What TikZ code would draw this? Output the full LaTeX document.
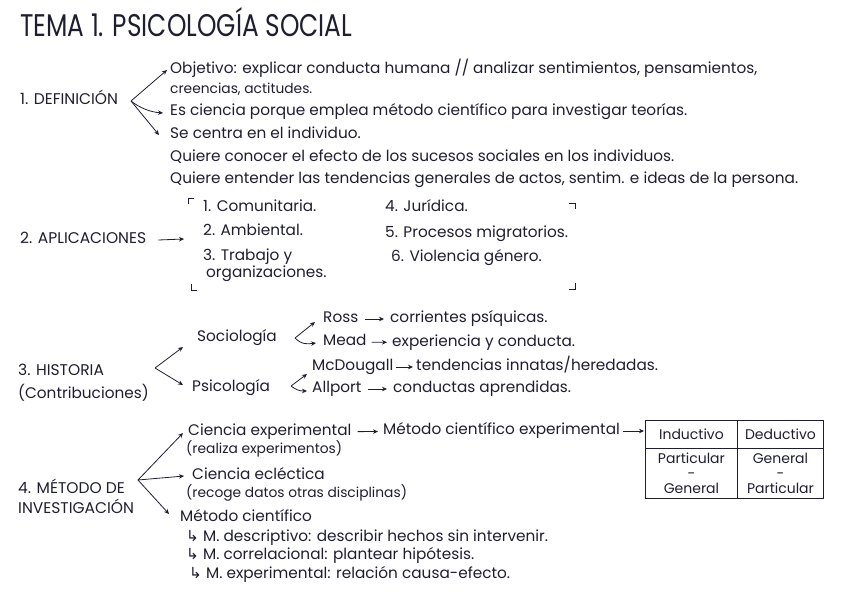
\documentclass[tikz,border=0pt]{standalone}
\usepackage{fontspec}
\setmainfont{Poppins}
\newfontfamily\hookfont{DejaVu Sans}
\usetikzlibrary{arrows.meta}
\definecolor{ink}{RGB}{30,30,48}
\tikzset{
  txt/.style={anchor=west, inner sep=0pt, text=ink, font=\fontsize{15.3}{17}\selectfont,
    text height=10pt, text depth=3pt},
  small/.style={txt, font=\fontsize{13.8}{15}\selectfont},
  head/.style={txt, font=\fontsize{15.5}{17}\selectfont},
  arr/.style={draw=ink, line width=0.8pt, -{Stealth[length=5pt,width=4.5pt]}},
  corner/.style={draw=ink, line width=0.8pt},
  cell/.style={draw=ink, line width=0.9pt, inner sep=0pt, anchor=north west, text=ink,
    font=\fontsize{14}{15}\selectfont, align=center}
}
\newcommand{\hk}{{\hookfont ↳}}

\begin{document}
\begin{tikzpicture}[x=1pt,y=-1pt]
\useasboundingbox (0,0) rectangle (848,613);

\node[anchor=base west, inner sep=0pt, text=ink] (title) at (20,37)
  {\resizebox{332pt}{29pt}{TEMA 1. PSICOLOGÍA SOCIAL}};

% 1. definicion
\node[head] (defi) at (20,101) {1. DEFINICIÓN};
\coordinate (v1) at (131,101);
\node[txt] (obj) at (170,70) {Objetivo: explicar conducta humana // analizar sentimientos, pensamientos,};
\node[small] (cre) at (170,90) {creencias, actitudes.};
\node[txt] (cien) at (170,112) {Es ciencia porque emplea método científico para investigar teorías.};
\node[txt] (cen) at (170,135) {Se centra en el individuo.};
\node[txt] (q1) at (170,158) {Quiere conocer el efecto de los sucesos sociales en los individuos.};
\node[txt] (q2) at (170,180) {Quiere entender las tendencias generales de actos, sentim. e ideas de la persona.};
\draw[arr] (v1) -- ([shift={(-3,0)}]obj.west);
\draw[arr] (v1) .. controls (140,108) and (150,112) .. ([shift={(-7,1)}]cien.west);
\draw[arr] (v1) -- ([shift={(-11,0)}]cen.west);

% 2. aplicaciones
\node[head] (apl) at (20,240) {2. APLICACIONES};
\coordinate (a2) at (184,239);
\node[txt] (c1) at (203,208) {1. Comunitaria.};
\node[txt] (c2) at (203,232) {2. Ambiental.};
\node[txt] (c3) at (203,257) {3. Trabajo y};
\node[txt] (c3b) at (206,274) {organizaciones.};
\node[txt] (c4) at (385,208) {4. Jurídica.};
\node[txt] (c5) at (385,234) {5. Procesos migratorios.};
\node[txt] (c6) at (391,258) {6. Violencia género.};
\draw[arr] ([xshift=12pt]apl.east) -- (a2);
\draw[corner] (188,204) |- (194,198);
\draw[corner] (191,284) |- (197,290);
\draw[corner] (569,203) -| (575,209);
\draw[corner] (575,283) |- (569,289);

% 3. historia
\node[head] (hist) at (18,372) {3. HISTORIA};
\node[txt] (contr) at (18,395) {(Contribuciones)};
\coordinate (v3) at (155,368);
\node[txt] (soc) at (197,338) {Sociología};
\node[txt] (psi) at (192,388) {Psicología};
\draw[arr] (v3) -- ([shift={(-14,9)}]soc.west);
\draw[arr] (v3) -- ([shift={(-9,-3)}]psi.west);
\coordinate (v3a) at (295,338);
\node[txt] (ross) at (323,319) {Ross};
\node[txt] (corr) at (390,319) {corrientes psíquicas.};
\node[txt] (mead) at (323,342) {Mead};
\node[txt] (expe) at (392,343) {experiencia y conducta.};
\draw[arr] (v3a) -- ([shift={(-8,3)}]ross.west);
\draw[arr] (v3a) .. controls (302,345) and (308,344) .. ([shift={(-7,1)}]mead.west);
\draw[arr, shorten <=7pt, shorten >=6pt] (ross) -- (corr);
\draw[arr, shorten <=5pt, shorten >=5pt] (mead) -- (expe);
\coordinate (v3b) at (291,386);
\node[txt] (mcd) at (312,367) {McDougall};
\node[txt] (tend) at (416,367) {tendencias innatas/heredadas.};
\node[txt] (allp) at (312,389) {Allport};
\node[txt] (cond) at (393,389) {conductas aprendidas.};
\draw[arr] (v3b) -- ([shift={(-5,7)}]mcd.west);
\draw[arr] (v3b) .. controls (296,390) and (300,391) .. ([shift={(-5,2)}]allp.west);
\draw[arr, shorten <=3pt, shorten >=3pt] (mcd) -- (tend);
\draw[arr, shorten <=6pt, shorten >=6pt] (allp) -- (cond);

% 4. metodo
\node[head] (met) at (18,490) {4. MÉTODO DE};
\node[head] (inv) at (18,510) {INVESTIGACIÓN};
\coordinate (v4) at (138,480);
\node[txt] (cexp) at (188,432) {Ciencia experimental};
\node[small] (real) at (186,450) {(realiza experimentos)};
\node[txt] (mce) at (383,431) {Método científico experimental};
\node[txt] (cecl) at (192,476) {Ciencia ecléctica};
\node[small] (rec) at (186,494) {(recoge datos otras disciplinas)};
\node[txt] (mc) at (180,518) {Método científico};
\node[txt] (md) at (186,538) {\hk\ M. descriptivo: describir hechos sin intervenir.};
\node[txt] (mco) at (186,556) {\hk\ M. correlacional: plantear hipótesis.};
\node[txt] (mex) at (189,575) {\hk\ M. experimental: relación causa-efecto.};
\draw[arr] (v4) -- ([shift={(-5,1)}]cexp.west);
\draw[arr] (v4) -- ([shift={(-8,0)}]cecl.west);
\draw[arr] (v4) -- ([shift={(-11,-4)}]mc.west);
\draw[arr, shorten <=6pt, shorten >=5pt] (cexp) -- (mce);

% tabla
\node[cell, minimum width=92pt, minimum height=28pt] (ind) at (645,420) {Inductivo};
\node[cell, minimum width=86pt, minimum height=28pt] (ded) at (737,420) {Deductivo};
\node[cell, minimum width=92pt, minimum height=50pt] (pg) at (645,448) {Particular\\-\\General};
\node[cell, minimum width=86pt, minimum height=50pt] (gp) at (737,448) {General\\-\\Particular};
\draw[arr, shorten <=3pt, shorten >=1pt] (mce.east) -- (mce.east -| ind.west);
\end{tikzpicture}
\end{document}
